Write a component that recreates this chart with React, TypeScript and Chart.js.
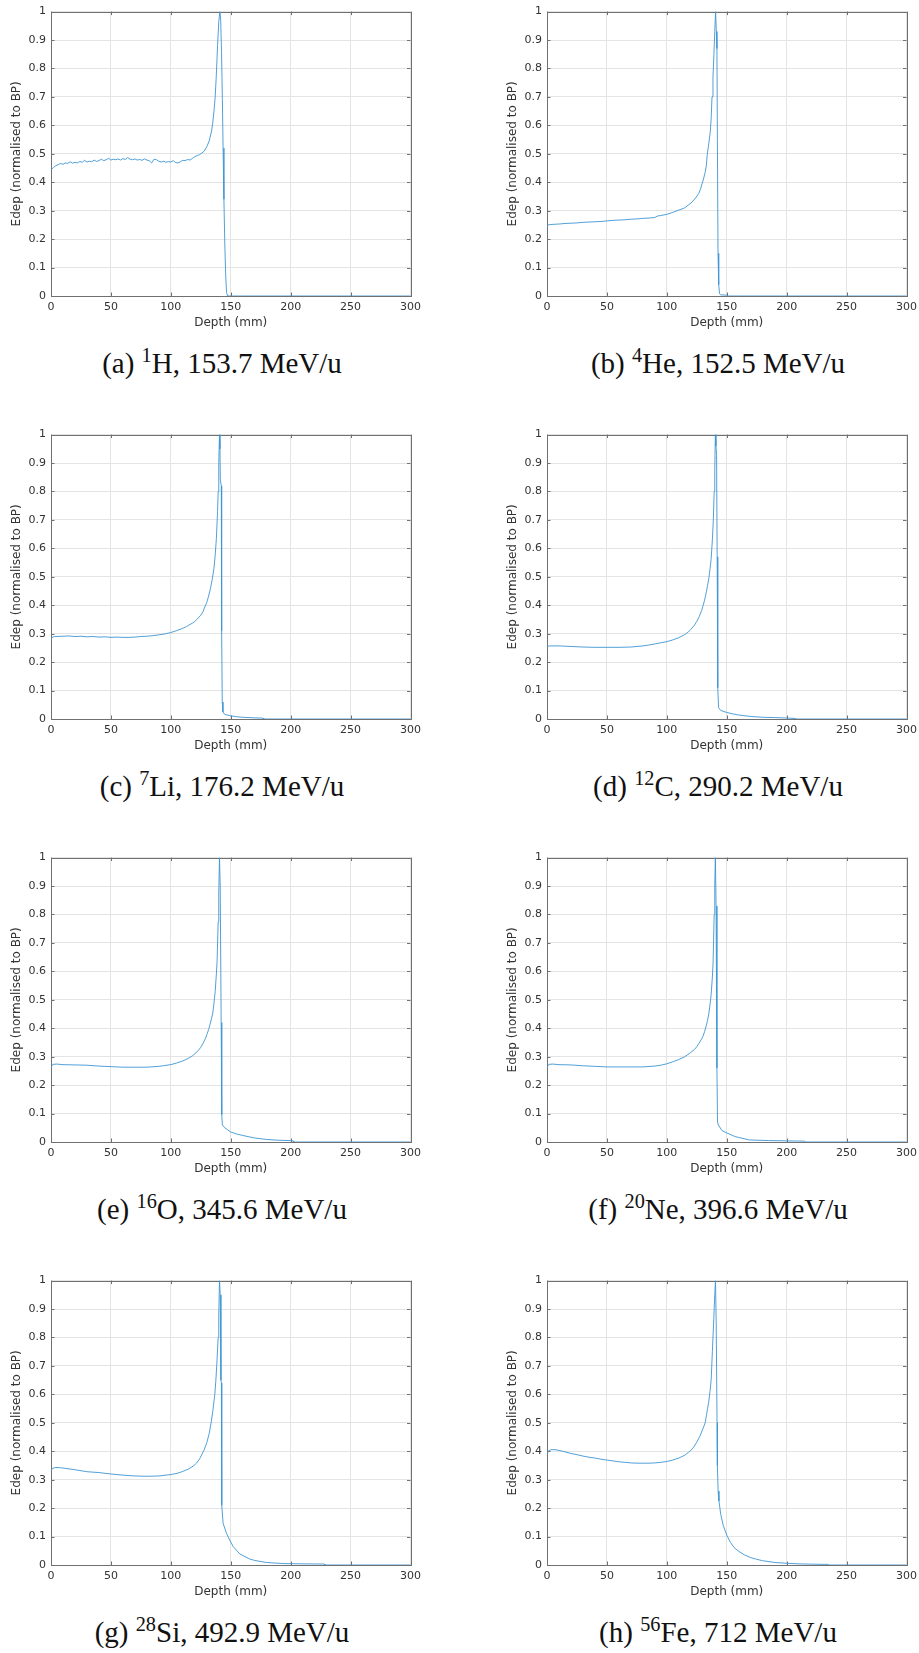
import React, { useEffect, useRef } from "react";
import { Chart, registerables } from "chart.js";

Chart.register(...registerables);

// Axis ranges and tick labels
const depthTicks = [0, 50, 100, 150, 200, 250, 300];
const edepTicks = [0, 0.1, 0.2, 0.3, 0.4, 0.5, 0.6, 0.7, 0.8, 0.9, 1];

// (a) 1H, 153.7 MeV/u
const depthH = [0, 2, 4, 6, 8, 10, 12, 14, 16, 18, 20, 22, 24, 26, 28, 30, 32, 34, 36, 38, 40, 42, 44, 46, 48, 50, 52, 54, 56, 58, 60, 62, 64, 66, 68, 70, 72, 74, 76, 78, 80, 82, 84, 86, 88, 90, 92, 94, 96, 98, 100, 102, 104, 106, 108, 110, 112, 114, 116, 118, 120, 122, 124, 126, 128, 130, 132, 134, 135, 136, 137, 138, 139, 140, 141, 141.6, 142.3, 143, 143.6, 144.3, 145, 145.7, 146.5, 147.5, 300];
const edepH = [0.443, 0.452, 0.458, 0.462, 0.466, 0.463, 0.468, 0.466, 0.472, 0.467, 0.470, 0.468, 0.473, 0.470, 0.477, 0.471, 0.474, 0.472, 0.478, 0.473, 0.476, 0.481, 0.476, 0.479, 0.484, 0.478, 0.481, 0.479, 0.482, 0.478, 0.483, 0.480, 0.487, 0.481, 0.479, 0.482, 0.478, 0.480, 0.477, 0.482, 0.478, 0.476, 0.468, 0.481, 0.479, 0.474, 0.471, 0.474, 0.470, 0.473, 0.471, 0.476, 0.469, 0.468, 0.472, 0.477, 0.476, 0.480, 0.478, 0.484, 0.490, 0.494, 0.497, 0.503, 0.510, 0.525, 0.545, 0.580, 0.610, 0.650, 0.700, 0.780, 0.880, 0.965, 1.0, 0.97, 0.86, 0.69, 0.52, 0.34, 0.19, 0.08, 0.012, 0, 0];

// (b) 4He, 152.5 MeV/u
const depthHe = [0, 1, 5, 10, 15, 20, 25, 30, 35, 40, 45, 50, 55, 60, 65, 70, 75, 80, 85, 90, 92, 95, 100, 105, 110, 115, 118, 121, 124, 126.6, 128, 130.2, 132, 133, 133.8, 135, 136.3, 137, 137.7, 138.5, 139.3, 140, 140.7, 141.3, 141.8, 142.2, 142.7, 143.3, 144, 145, 150, 151, 300];
const edepHe = [0.245, 0.250, 0.252, 0.253, 0.255, 0.256, 0.257, 0.259, 0.260, 0.261, 0.262, 0.264, 0.266, 0.267, 0.268, 0.270, 0.271, 0.273, 0.274, 0.276, 0.281, 0.283, 0.287, 0.294, 0.302, 0.310, 0.320, 0.330, 0.345, 0.360, 0.375, 0.405, 0.435, 0.460, 0.500, 0.535, 0.580, 0.625, 0.700, 0.770, 0.850, 0.930, 1.0, 0.93, 0.87, 0.55, 0.15, 0.04, 0.008, 0.004, 0.003, 0, 0];

// (c) 7Li, 176.2 MeV/u
const depthLi = [0, 1, 3, 10, 15, 20, 25, 30, 35, 40, 45, 50, 55, 60, 65, 70, 75, 80, 85, 90, 95, 100, 105, 110, 113, 115, 118, 120, 122, 125, 127, 128, 130, 131.5, 133, 134.5, 136, 137, 138, 139, 139.5, 140, 140.6, 141, 141.3, 142.1, 142.4, 142.9, 143.5, 145, 150, 155, 160, 170, 177, 177.5, 300];
const edepLi = [0.280, 0.287, 0.290, 0.291, 0.292, 0.290, 0.291, 0.289, 0.290, 0.288, 0.289, 0.287, 0.288, 0.287, 0.287, 0.288, 0.290, 0.291, 0.293, 0.296, 0.299, 0.304, 0.311, 0.319, 0.325, 0.330, 0.337, 0.343, 0.351, 0.365, 0.379, 0.390, 0.410, 0.432, 0.458, 0.490, 0.530, 0.575, 0.634, 0.730, 0.800, 0.900, 1.0, 0.95, 0.84, 0.82, 0.31, 0.06, 0.025, 0.016, 0.011, 0.008, 0.006, 0.004, 0.003, 0, 0];

// (d) 12C, 290.2 MeV/u
const depthC = [0, 2, 10, 20, 30, 40, 50, 60, 70, 80, 85, 90, 95, 100, 105, 110, 115, 118, 120, 123, 125, 127, 129, 130, 131.5, 133, 134, 135, 136, 137, 138, 138.8, 139.5, 140, 140.5, 141, 141.5, 142, 142.5, 143.2, 145, 150, 155, 160, 170, 180, 190, 200, 207, 207.5, 300];
const edepC = [0.255, 0.257, 0.257, 0.255, 0.253, 0.252, 0.252, 0.252, 0.253, 0.257, 0.260, 0.264, 0.268, 0.272, 0.278, 0.286, 0.297, 0.306, 0.315, 0.330, 0.343, 0.360, 0.381, 0.395, 0.418, 0.447, 0.470, 0.494, 0.525, 0.564, 0.630, 0.700, 0.800, 0.880, 1.0, 0.96, 0.93, 0.57, 0.11, 0.040, 0.030, 0.023, 0.018, 0.014, 0.009, 0.006, 0.005, 0.0035, 0.002, 0, 0];

// (e) 16O, 345.6 MeV/u
const depthO = [0, 1.5, 5, 10, 20, 30, 40, 50, 60, 70, 80, 90, 95, 100, 105, 110, 115, 118, 120, 123, 125, 127, 129, 130, 131.5, 133, 134, 135, 136, 137, 138, 138.6, 139.5, 140, 140.6, 141.2, 142, 142.5, 143, 145, 150, 155, 160, 170, 180, 190, 200, 202, 202.5, 300];
const edepO = [0.262, 0.273, 0.274, 0.272, 0.271, 0.270, 0.267, 0.265, 0.263, 0.263, 0.263, 0.266, 0.269, 0.272, 0.278, 0.285, 0.295, 0.303, 0.310, 0.322, 0.333, 0.348, 0.365, 0.377, 0.395, 0.418, 0.435, 0.453, 0.488, 0.529, 0.590, 0.634, 0.774, 0.880, 1.0, 0.90, 0.42, 0.096, 0.060, 0.050, 0.035, 0.028, 0.023, 0.014, 0.009, 0.006, 0.005, 0.004, 0, 0];

// (f) 20Ne, 396.6 MeV/u
const depthNe = [0, 1.5, 5, 10, 20, 30, 40, 50, 60, 70, 80, 90, 95, 100, 105, 110, 115, 120, 123, 125, 127, 129, 130, 131.5, 133, 134, 135, 136, 137, 138, 138.6, 139.5, 140, 140.5, 141.1, 141.8, 142.3, 143, 146, 150, 157, 160, 168, 170, 185, 200, 215, 215.5, 300];
const edepNe = [0.262, 0.273, 0.274, 0.272, 0.271, 0.268, 0.266, 0.264, 0.264, 0.264, 0.264, 0.267, 0.270, 0.275, 0.282, 0.290, 0.300, 0.315, 0.325, 0.335, 0.348, 0.362, 0.370, 0.388, 0.410, 0.428, 0.450, 0.482, 0.520, 0.580, 0.630, 0.800, 0.900, 1.0, 0.83, 0.26, 0.07, 0.060, 0.040, 0.032, 0.019, 0.016, 0.008, 0.007, 0.005, 0.004, 0.003, 0, 0];

// (g) 28Si, 492.9 MeV/u
const depthSi = [0, 1.5, 4, 8, 15, 20, 30, 40, 50, 60, 70, 80, 90, 100, 105, 110, 115, 119, 121.4, 124, 127.5, 130, 132, 133.6, 135, 136.7, 137.5, 138.3, 139.5, 140, 140.6, 141.2, 141.8, 142.2, 142.5, 143.6, 146.4, 149.2, 152, 157.5, 165.8, 170, 179.6, 193.5, 210, 228, 228.5, 300];
const edepSi = [0.332, 0.340, 0.343, 0.342, 0.338, 0.335, 0.328, 0.325, 0.320, 0.316, 0.313, 0.312, 0.313, 0.318, 0.322, 0.329, 0.338, 0.349, 0.358, 0.373, 0.402, 0.430, 0.462, 0.500, 0.540, 0.600, 0.645, 0.700, 0.800, 0.880, 1.0, 0.95, 0.65, 0.64, 0.21, 0.147, 0.112, 0.087, 0.065, 0.039, 0.021, 0.016, 0.009, 0.005, 0.004, 0.0035, 0, 0];

// (h) 56Fe, 712 MeV/u
const depthFe = [0, 1, 3, 6, 10, 15, 20, 25, 30, 35, 40, 45, 50, 55, 60, 65, 70, 75, 80, 85, 90, 95, 100, 105, 110, 115, 118, 120, 122.5, 125, 127.5, 130, 132, 133, 134, 135, 136, 137, 138, 139.2, 140, 140.6, 141.2, 141.9, 142.2, 142.8, 143.5, 145, 147, 150, 153, 156, 160, 165, 170, 175, 180, 190, 200, 210, 220, 235, 236, 300];
const edepFe = [0.390, 0.400, 0.405, 0.406, 0.403, 0.398, 0.392, 0.388, 0.383, 0.379, 0.376, 0.372, 0.369, 0.366, 0.363, 0.361, 0.359, 0.358, 0.358, 0.358, 0.359, 0.361, 0.364, 0.369, 0.376, 0.386, 0.396, 0.403, 0.415, 0.432, 0.452, 0.478, 0.500, 0.525, 0.550, 0.575, 0.610, 0.651, 0.750, 0.868, 0.950, 1.0, 0.85, 0.50, 0.35, 0.26, 0.225, 0.178, 0.140, 0.105, 0.080, 0.062, 0.048, 0.035, 0.026, 0.020, 0.015, 0.009, 0.006, 0.004, 0.003, 0.002, 0, 0];

type PanelSpec = {
  letter: string;
  mass: string;
  symbol: string;
  energy: string;
  depth: number[];
  edep: number[];
};

const panels: PanelSpec[] = [
  { letter: "a", mass: "1", symbol: "H", energy: "153.7", depth: depthH, edep: edepH },
  { letter: "b", mass: "4", symbol: "He", energy: "152.5", depth: depthHe, edep: edepHe },
  { letter: "c", mass: "7", symbol: "Li", energy: "176.2", depth: depthLi, edep: edepLi },
  { letter: "d", mass: "12", symbol: "C", energy: "290.2", depth: depthC, edep: edepC },
  { letter: "e", mass: "16", symbol: "O", energy: "345.6", depth: depthO, edep: edepO },
  { letter: "f", mass: "20", symbol: "Ne", energy: "396.6", depth: depthNe, edep: edepNe },
  { letter: "g", mass: "28", symbol: "Si", energy: "492.9", depth: depthSi, edep: edepSi },
  { letter: "h", mass: "56", symbol: "Fe", energy: "712", depth: depthFe, edep: edepFe },
];

const LINE_COLOR = "#3d95d4";
const AXIS_COLOR = "#707070";
const GRID_COLOR = "#e4e4e4";
const TEXT_COLOR = "#333333";
const SANS = "'DejaVu Sans', sans-serif";

const CANVAS_W = 426;
const CANVAS_H = 330;
const COL_X = [0, 496];
const ROW_STEP = 423;

// Box around the plot area with short inward ticks on all four sides
const boxAxesPlugin = {
  id: "boxAxes",
  beforeDatasetsDraw(chart: any) {
    const { ctx, chartArea, scales } = chart;
    const { left, right, top, bottom } = chartArea;
    const tick = 3.5;
    ctx.save();
    ctx.strokeStyle = AXIS_COLOR;
    ctx.lineWidth = 1;
    ctx.beginPath();
    for (const v of depthTicks) {
      const px = Math.round(scales.x.getPixelForValue(v)) + 0.5;
      ctx.moveTo(px, bottom);
      ctx.lineTo(px, bottom - tick);
      ctx.moveTo(px, top);
      ctx.lineTo(px, top + tick);
    }
    for (const v of edepTicks) {
      const py = Math.round(scales.y.getPixelForValue(v)) + 0.5;
      ctx.moveTo(left, py);
      ctx.lineTo(left + tick, py);
      ctx.moveTo(right, py);
      ctx.lineTo(right - tick, py);
    }
    ctx.stroke();
    ctx.strokeRect(Math.round(left) + 0.5, Math.round(top) + 0.5, Math.round(right - left), Math.round(bottom - top));
    ctx.restore();
  },
};

function DepthDosePanel({ spec, x, y }: { spec: PanelSpec; x: number; y: number }) {
  const ref = useRef<HTMLCanvasElement | null>(null);

  useEffect(() => {
    if (!ref.current) return;
    const points = spec.depth.map((d, i) => ({ x: d, y: spec.edep[i] }));
    const chart = new Chart(ref.current, {
      type: "line",
      data: {
        datasets: [
          {
            data: points,
            borderColor: LINE_COLOR,
            borderWidth: 0.9,
            borderJoinStyle: "round",
            borderCapStyle: "round",
            pointRadius: 0,
            tension: 0,
            fill: false,
          },
        ],
      },
      options: {
        animation: false,
        responsive: false,
        maintainAspectRatio: false,
        events: [],
        layout: { padding: { left: 0, right: 15, top: 11, bottom: 0 } },
        plugins: { legend: { display: false }, tooltip: { enabled: false } },
        scales: {
          x: {
            type: "linear",
            min: 0,
            max: 300,
            afterBuildTicks: (scale: any) => {
              scale.ticks = depthTicks.map((v) => ({ value: v }));
            },
            afterFit: (scale: any) => {
              scale.height = 34;
            },
            grid: { color: GRID_COLOR, drawTicks: false, lineWidth: 1 },
            border: { display: false },
            ticks: {
              padding: 5,
              maxRotation: 0,
              color: TEXT_COLOR,
              font: { family: SANS, size: 11 },
              callback: (v: any) => String(v),
            },
            title: {
              display: true,
              text: "Depth (mm)",
              color: TEXT_COLOR,
              font: { family: SANS, size: 12 },
              padding: { top: 0, bottom: 0 },
            },
          },
          y: {
            type: "linear",
            min: 0,
            max: 1,
            afterBuildTicks: (scale: any) => {
              scale.ticks = edepTicks.map((v) => ({ value: v }));
            },
            afterFit: (scale: any) => {
              scale.width = 51;
            },
            grid: { color: GRID_COLOR, drawTicks: false, lineWidth: 1 },
            border: { display: false },
            ticks: {
              padding: 5,
              color: TEXT_COLOR,
              font: { family: SANS, size: 11 },
              callback: (v: any) => String(Math.round(Number(v) * 10) / 10),
            },
            title: {
              display: true,
              text: "Edep (normalised to BP)",
              color: TEXT_COLOR,
              font: { family: SANS, size: 12 },
              padding: { top: 10, bottom: 0 },
            },
          },
        },
      },
      plugins: [boxAxesPlugin],
    } as any);
    return () => chart.destroy();
  }, [spec]);

  return (
    <canvas
      ref={ref}
      width={CANVAS_W}
      height={CANVAS_H}
      style={{ position: "absolute", left: x, top: y, width: CANVAS_W, height: CANVAS_H }}
    />
  );
}

function Caption({ spec, cx, top }: { spec: PanelSpec; cx: number; top: number }) {
  return (
    <div
      style={{
        position: "absolute",
        left: cx - 200,
        top,
        width: 400,
        textAlign: "center",
        fontFamily: "'Liberation Serif', 'DejaVu Serif', serif",
        fontSize: 29,
        lineHeight: "29px",
        color: "#111",
        whiteSpace: "nowrap",
      }}
    >
      ({spec.letter}){" "}
      <span style={{ fontSize: "0.7em", verticalAlign: "super", lineHeight: 0 }}>{spec.mass}</span>
      {spec.symbol}, {spec.energy} MeV/u
    </div>
  );
}

export default function App() {
  return (
    <div
      style={{
        position: "absolute",
        left: 0,
        top: 0,
        width: 919,
        height: 1653,
        background: "#ffffff",
        overflow: "hidden",
      }}
    >
      {panels.map((p, i) => {
        const col = i % 2;
        const row = Math.floor(i / 2);
        return (
          <React.Fragment key={p.letter}>
            <DepthDosePanel spec={p} x={COL_X[col]} y={row * ROW_STEP} />
            <Caption spec={p} cx={col === 0 ? 222 : 718} top={349 + row * ROW_STEP} />
          </React.Fragment>
        );
      })}
    </div>
  );
}
